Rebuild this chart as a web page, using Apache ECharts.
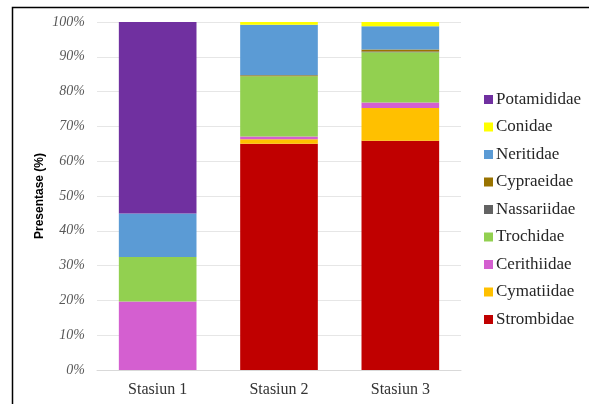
<!DOCTYPE html>
<html>
<head>
<meta charset="utf-8">
<script src="https://cdn.jsdelivr.net/npm/echarts@6/dist/echarts.min.js"></script>
<style>html,body{margin:0;padding:0;background:#fff;}#c{width:589px;height:404px;}</style>
</head>
<body>
<div id="c"></div>
<script>
var categories = ['Stasiun 1', 'Stasiun 2', 'Stasiun 3'];
var strombidae  = [0, 65.0, 65.9];
var cymatiidae  = [0, 1.3, 9.4];
var cerithiidae = [19.7, 0.8, 1.6];
var trochidae   = [12.8, 17.3, 14.4];
var nassariidae = [0, 0, 0.2];
var cypraeidae  = [0, 0.3, 0.6];
var neritidae   = [12.5, 14.5, 6.7];
var conidae     = [0, 0.8, 1.2];
var potamididae = [55.0, 0, 0];
var yTicks = [0, 10, 20, 30, 40, 50, 60, 70, 80, 90, 100];

var seriesDefs = [
  ['Strombidae', strombidae, '#C00000'],
  ['Cymatiidae', cymatiidae, '#FFC000'],
  ['Cerithiidae', cerithiidae, '#D45FD0'],
  ['Trochidae', trochidae, '#92D050'],
  ['Nassariidae', nassariidae, '#636363'],
  ['Cypraeidae', cypraeidae, '#997300'],
  ['Neritidae', neritidae, '#5B9BD5'],
  ['Conidae', conidae, '#FFFF00'],
  ['Potamididae', potamididae, '#7030A0']
];

var chart = echarts.init(document.getElementById('c'), null, {renderer: 'canvas'});
chart.setOption({
  animation: false,
  backgroundColor: '#fff',
  graphic: [{
    type: 'rect', left: 10, top: 5, z: -1,
    shape: {width: 640, height: 460},
    style: {fill: 'none', stroke: '#000', lineWidth: 1.5}
  }],
  grid: {left: 97, right: 128, top: 22, bottom: 34},
  legend: {
    orient: 'vertical',
    left: 479, top: 86,
    itemWidth: 9, itemHeight: 9, itemGap: 10.5,
    icon: 'rect',
    data: seriesDefs.map(function (d) { return d[0]; }).reverse(),
    textStyle: {fontFamily: 'Liberation Serif', fontSize: 17, color: '#262626', padding: [0, 0, 0, -2]}
  },
  xAxis: {
    type: 'category',
    data: categories,
    axisTick: {show: false},
    axisLine: {lineStyle: {color: '#D9D9D9'}},
    axisLabel: {fontFamily: 'Liberation Serif', fontSize: 16, color: '#333', margin: 12}
  },
  yAxis: {
    type: 'value',
    min: yTicks[0], max: yTicks[yTicks.length - 1], interval: 10,
    name: 'Presentase (%)',
    nameLocation: 'middle',
    nameGap: 51,
    nameMoveOverlap: false,
    nameTextStyle: {fontFamily: 'Liberation Sans', fontWeight: 'bold', fontSize: 12, color: '#000'},
    axisLine: {show: false},
    axisTick: {show: false},
    splitLine: {lineStyle: {color: '#E6E6E6'}},
    axisLabel: {
      fontFamily: 'Liberation Serif', fontStyle: 'italic', fontSize: 14, color: '#595959', margin: 12,
      formatter: function (v) { return v + '%'; }
    }
  },
  series: seriesDefs.map(function (d) {
    return {
      name: d[0], type: 'bar', stack: 'total', data: d[1],
      barWidth: '64%',
      itemStyle: {color: d[2]}
    };
  })
});
</script>
</body>
</html>
